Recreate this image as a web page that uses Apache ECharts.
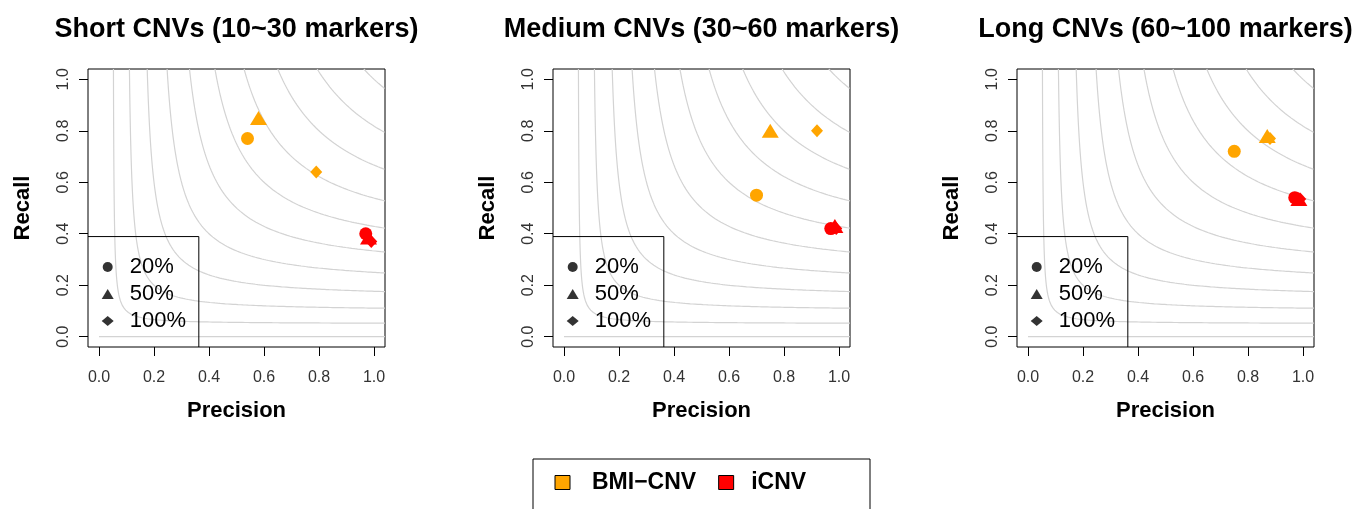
<!DOCTYPE html>
<html>
<head>
<meta charset="utf-8">
<script src="https://cdn.jsdelivr.net/npm/echarts@6/dist/echarts.min.js"></script>
<style>
html,body{margin:0;padding:0;background:#fff;}
#chart{width:1355px;height:509px;}
</style>
</head>
<body>
<div id="chart"></div>
<script>
// ---- data ----
const panelTitles = ['Short CNVs (10~30 markers)', 'Medium CNVs (30~60 markers)', 'Long CNVs (60~100 markers)'];
const methods = ['BMI\u2212CNV', 'iCNV'];
const coverage = ['20%', '50%', '100%'];
// precision / recall per panel, ordered as coverage (20%, 50%, 100%)
const bmiPrecision  = [[0.54, 0.58, 0.79], [0.70, 0.75, 0.92], [0.75, 0.87, 0.88]];
const bmiRecall     = [[0.77, 0.85, 0.64], [0.55, 0.80, 0.80], [0.72, 0.78, 0.77]];
const icnvPrecision = [[0.97, 0.98, 0.99], [0.97, 0.985, 0.99], [0.97, 0.985, 0.99]];
const icnvRecall    = [[0.40, 0.385, 0.37], [0.42, 0.43, 0.42], [0.54, 0.535, 0.535]];
const tickValues = [0, 0.2, 0.4, 0.6, 0.8, 1.0];
const fLevels = [0, 0.1, 0.2, 0.3, 0.4, 0.5, 0.6, 0.7, 0.8, 0.9, 1.0]; // iso F-measure contours
const legendBoxCorner = [0.363, 0.389]; // inner legend box (precision, recall)

// ---- layout / style ----
const FONT = "'Liberation Sans', Arial, Helvetica, sans-serif";
const AX_MIN = -0.04, AX_MAX = 1.04;
const gridLefts = [88, 553, 1017];
const GRID_W = 297, GRID_TOP = 69, GRID_H = 278;
const colors = {'BMI\u2212CNV': '#FFA500', 'iCNV': '#FF0000'};
const shapes = {'20%': {symbol: 'circle', size: 13}, '50%': {symbol: 'triangle', size: [17, 14]}, '100%': {symbol: 'diamond', size: [12, 13]}};

function fCurve(F) {
  if (F === 0) return [[0, 0], [AX_MAX, 0]];
  const pts = [];
  const lo = AX_MAX * F / (2 * AX_MAX - F);
  const N = 200;
  for (let i = 0; i <= N; i++) {
    const p = lo + (AX_MAX - lo) * i / N;
    pts.push([p, F * p / (2 * p - F)]);
    const r = lo + (AX_MAX - lo) * i / N;
    pts.push([F * r / (2 * r - F), r]);
  }
  pts.sort((a, b) => a[0] - b[0]);
  return pts;
}

const grids = [], xAxes = [], yAxes = [], titles = [], series = [], legends = [];
panelTitles.forEach((t, k) => {
  const left = gridLefts[k];
  grids.push({left: left, top: GRID_TOP, width: GRID_W, height: GRID_H, show: true, borderColor: '#000', borderWidth: 1, backgroundColor: 'transparent'});
  titles.push({text: t, left: left + GRID_W / 2 - 5, top: 11, textAlign: 'center',
    textStyle: {fontFamily: FONT, fontSize: 27, fontWeight: 'bold', color: '#000'}});
  const axisCommon = {
    type: 'value', min: AX_MIN, max: AX_MAX, gridIndex: k,
    splitLine: {show: false}, axisLine: {show: false, onZero: false},
    axisTick: {show: true, inside: false, customValues: tickValues, length: 9, lineStyle: {color: '#000', width: 1}},
    nameLocation: 'middle', nameMoveOverlap: false,
    nameTextStyle: {fontFamily: FONT, fontSize: 22, fontWeight: 'bold', color: '#000'}
  };
  xAxes.push(Object.assign({}, axisCommon, {
    position: 'bottom', name: 'Precision', nameGap: 53,
    axisLabel: {customValues: tickValues, formatter: v => v.toFixed(1), fontFamily: FONT, fontSize: 16, color: '#333', margin: 23}
  }));
  yAxes.push(Object.assign({}, axisCommon, {
    position: 'left', name: 'Recall', nameGap: 54,
    axisLabel: {customValues: tickValues, formatter: v => v.toFixed(1), rotate: 90, fontFamily: FONT, fontSize: 16, color: '#333', margin: 16}
  }));
  fLevels.forEach(F => {
    series.push({type: 'line', xAxisIndex: k, yAxisIndex: k, data: fCurve(F), showSymbol: false, symbol: 'none',
      silent: true, clip: true, z: 1, lineStyle: {color: '#d3d3d3', width: 1.2}});
  });
  series.push({type: 'line', xAxisIndex: k, yAxisIndex: k, silent: true, symbol: 'none', z: 2,
    data: [[AX_MIN, legendBoxCorner[1]], [legendBoxCorner[0], legendBoxCorner[1]], [legendBoxCorner[0], AX_MIN]],
    lineStyle: {color: '#000', width: 1}});
  const sets = [[methods[0], bmiPrecision[k], bmiRecall[k]], [methods[1], icnvPrecision[k], icnvRecall[k]]];
  sets.forEach(([m, P, R]) => {
    series.push({type: 'scatter', name: m, xAxisIndex: k, yAxisIndex: k, z: 3,
      itemStyle: {color: colors[m], opacity: 1},
      data: coverage.map((c, i) => ({value: [P[i], R[i]], symbol: shapes[c].symbol, symbolSize: shapes[c].size}))});
  });
  legends.push({
    left: left + 8.7, top: 251, orient: 'vertical', selectedMode: false,
    itemWidth: 12, itemHeight: 10, itemGap: 5,
    data: coverage.map(c => ({name: c, icon: shapes[c].symbol, itemStyle: {color: '#000'}})),
    textStyle: {fontFamily: FONT, fontSize: 22, lineHeight: 22, color: '#000', padding: [0, 0, 0, 11]}
  });
});
// dummy series carrying the coverage legend entries
coverage.forEach(c => series.push({type: 'scatter', name: c, xAxisIndex: 0, yAxisIndex: 0, data: [], symbol: shapes[c].symbol, itemStyle: {color: '#000'}}));

legends.push({
  left: 549.5, top: 466, orient: 'horizontal', selectedMode: false,
  itemWidth: 15, itemHeight: 14, itemGap: 22,
  data: methods.map((m, i) => ({name: m, icon: 'rect', itemStyle: {color: colors[m], borderColor: '#000', borderWidth: 1},
    textStyle: {padding: [0, 0, 0, i === 0 ? 17 : 12.5]}})),
  textStyle: {fontFamily: FONT, fontSize: 23, lineHeight: 23, fontWeight: 'bold', color: '#000', padding: [0, 0, 0, 17]}
});

const chart = echarts.init(document.getElementById('chart'), null, {renderer: 'canvas'});
chart.setOption({
  animation: false,
  backgroundColor: '#fff',
  title: titles,
  grid: grids,
  xAxis: xAxes,
  yAxis: yAxes,
  legend: legends,
  graphic: [{type: 'rect', shape: {x: 533, y: 459, width: 337, height: 80}, style: {fill: 'none', stroke: '#000', lineWidth: 1}, silent: true}],
  series: series
});
</script>
</body>
</html>
